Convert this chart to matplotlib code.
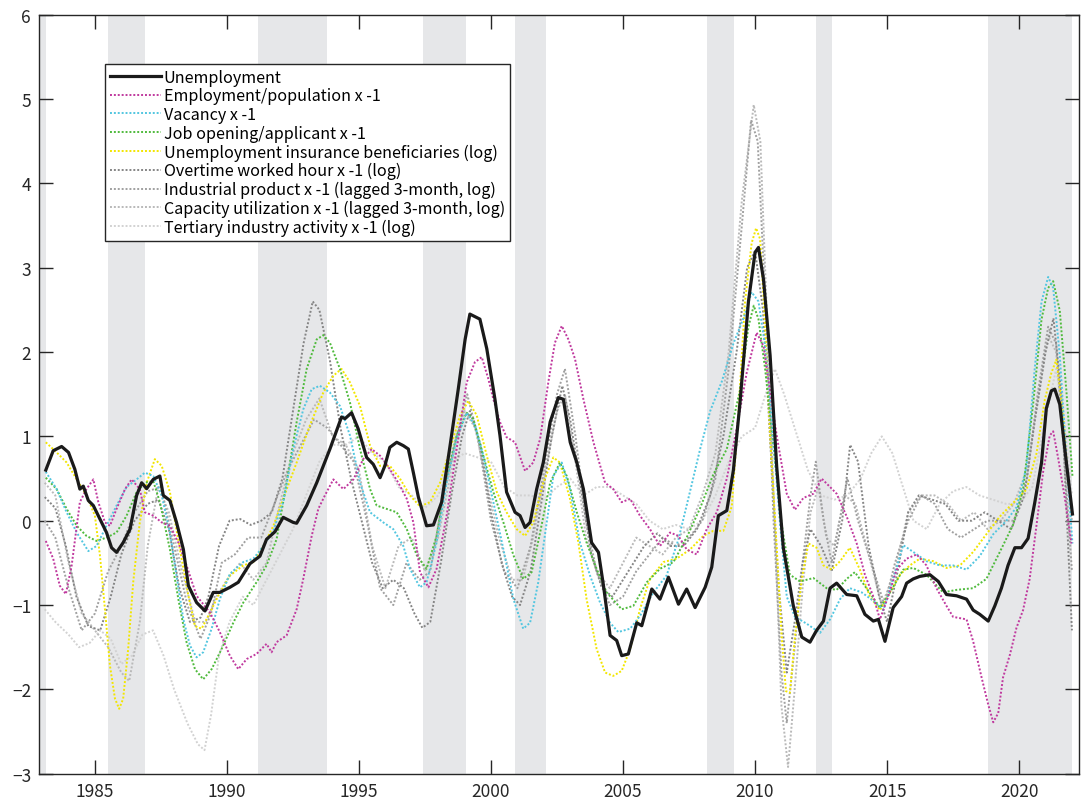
import matplotlib
matplotlib.use("Agg")
import matplotlib.pyplot as plt

plt.rcParams['font.family'] = ['Noto Sans CJK JP', 'DejaVu Sans']

# ---------------------------------------------------------------
# data (decimal year, standardized value)
# ---------------------------------------------------------------
unemployment = [
    (1983.14, 0.60), (1983.42, 0.83), (1983.74, 0.88), (1984.0, 0.81), (1984.24, 0.61), (1984.43, 0.375),
    (1984.56, 0.41), (1984.75, 0.24), (1984.94, 0.18), (1985.19, 0.02), (1985.44, -0.14), (1985.63, -0.32),
    (1985.82, -0.375), (1986.07, -0.26), (1986.33, -0.10), (1986.58, 0.30), (1986.77, 0.45), (1986.96, 0.38),
    (1987.21, 0.49), (1987.46, 0.53), (1987.59, 0.30), (1987.84, 0.24), (1988.09, -0.02), (1988.35, -0.34),
    (1988.54, -0.77), (1988.85, -0.97), (1989.17, -1.07), (1989.48, -0.85), (1989.73, -0.85), (1990.11, -0.79),
    (1990.43, -0.73), (1990.87, -0.51), (1991.25, -0.42), (1991.5, -0.22), (1991.82, -0.13), (1992.13, 0.04),
    (1992.51, -0.02), (1992.64, -0.03), (1993.02, 0.18), (1993.4, 0.45), (1993.9, 0.85), (1994.34, 1.23),
    (1994.47, 1.21), (1994.72, 1.28), (1994.97, 1.09), (1995.29, 0.75), (1995.54, 0.67), (1995.8, 0.51),
    (1995.98, 0.65), (1996.17, 0.87), (1996.43, 0.93), (1996.68, 0.89), (1996.87, 0.85), (1997.06, 0.57),
    (1997.25, 0.28), (1997.56, -0.06), (1997.82, -0.05), (1998.13, 0.22), (1998.45, 0.89), (1998.76, 1.56),
    (1999.02, 2.15), (1999.2, 2.45), (1999.58, 2.39), (1999.84, 2.04), (2000.15, 1.44), (2000.34, 1.01),
    (2000.59, 0.34), (2000.91, 0.10), (2001.1, 0.06), (2001.29, -0.08), (2001.48, -0.02), (2001.73, 0.375),
    (2001.98, 0.69), (2002.24, 1.17), (2002.55, 1.46), (2002.74, 1.44), (2003.0, 0.93), (2003.25, 0.69),
    (2003.5, 0.375), (2003.81, -0.26), (2004.07, -0.375), (2004.26, -0.77), (2004.51, -1.36), (2004.76, -1.42),
    (2004.95, -1.60), (2005.2, -1.58), (2005.52, -1.21), (2005.71, -1.245), (2006.09, -0.81), (2006.4, -0.93),
    (2006.72, -0.67), (2007.1, -0.99), (2007.41, -0.81), (2007.73, -1.03), (2008.11, -0.79), (2008.36, -0.55),
    (2008.61, 0.06), (2008.93, 0.12), (2009.18, 0.60), (2009.43, 1.4), (2009.75, 2.6), (2010.0, 3.18),
    (2010.13, 3.24), (2010.32, 2.86), (2010.57, 1.96), (2010.82, 0.64), (2011.07, -0.32), (2011.45, -1.01),
    (2011.77, -1.38), (2012.08, -1.44), (2012.33, -1.30), (2012.59, -1.19), (2012.84, -0.80), (2013.09, -0.74),
    (2013.47, -0.875), (2013.85, -0.89), (2014.16, -1.11), (2014.48, -1.19), (2014.67, -1.17), (2014.92, -1.43),
    (2015.23, -1.03), (2015.55, -0.90), (2015.74, -0.74), (2015.99, -0.69), (2016.24, -0.66), (2016.62, -0.64),
    (2016.94, -0.72), (2017.25, -0.875), (2017.63, -0.89), (2018.01, -0.93), (2018.26, -1.06), (2018.51, -1.11),
    (2018.83, -1.19), (2019.08, -1.01), (2019.33, -0.80), (2019.58, -0.53), (2019.84, -0.32), (2020.09, -0.32),
    (2020.34, -0.21), (2020.59, 0.21), (2020.85, 0.69), (2021.03, 1.33), (2021.22, 1.54), (2021.35, 1.56),
    (2021.54, 1.38), (2021.79, 0.69), (2022.02, 0.08),
]

employment_pop = [
    (1983.14, -0.24), (1983.42, -0.45), (1983.67, -0.77), (1983.90, -0.87), (1984.12, -0.53), (1984.43, 0.22),
    (1984.68, 0.375), (1984.94, 0.49), (1985.13, 0.22), (1985.38, -0.02), (1985.57, -0.06), (1985.82, 0.14),
    (1986.14, 0.375), (1986.39, 0.49), (1986.70, 0.375), (1986.89, 0.10), (1987.21, 0.06), (1987.53, -0.02),
    (1987.84, -0.06), (1988.16, -0.26), (1988.47, -0.53), (1988.85, -0.89), (1989.36, -1.09), (1989.73, -1.32),
    (1990.11, -1.60), (1990.43, -1.76), (1990.75, -1.64), (1991.12, -1.58), (1991.50, -1.46), (1991.69, -1.56),
    (1991.88, -1.44), (1992.26, -1.36), (1992.64, -1.05), (1992.89, -0.69), (1993.21, -0.18), (1993.46, 0.14),
    (1993.71, 0.30), (1994.03, 0.49), (1994.41, 0.375), (1994.79, 0.49), (1995.16, 0.73), (1995.48, 0.85),
    (1995.80, 0.77), (1996.17, 0.61), (1996.49, 0.45), (1996.81, 0.26), (1997.06, -0.02), (1997.31, -0.61),
    (1997.63, -0.79), (1997.94, -0.57), (1998.32, 0.06), (1998.70, 0.85), (1999.08, 1.64), (1999.39, 1.88),
    (1999.65, 1.94), (1999.90, 1.68), (2000.09, 1.44), (2000.34, 1.17), (2000.59, 0.99), (2000.91, 0.93),
    (2001.29, 0.59), (2001.60, 0.69), (2001.86, 0.97), (2002.17, 1.64), (2002.42, 2.11), (2002.68, 2.31),
    (2002.93, 2.15), (2003.18, 1.92), (2003.50, 1.44), (2003.88, 0.93), (2004.32, 0.45), (2004.63, 0.375),
    (2004.95, 0.22), (2005.27, 0.26), (2005.64, 0.06), (2006.02, -0.10), (2006.40, -0.30), (2006.78, -0.14),
    (2007.10, -0.18), (2007.41, -0.34), (2007.79, -0.40), (2008.17, -0.10), (2008.55, 0.10), (2008.93, 0.50),
    (2009.31, 1.10), (2009.68, 1.75), (2010.06, 2.23), (2010.32, 2.07), (2010.57, 1.54), (2010.82, 1.01),
    (2011.20, 0.32), (2011.51, 0.13), (2011.83, 0.27), (2012.21, 0.32), (2012.52, 0.50), (2012.84, 0.40),
    (2013.09, 0.32), (2013.47, 0.05), (2013.85, -0.27), (2014.16, -0.64), (2014.48, -0.90), (2014.73, -1.17),
    (2015.04, -0.90), (2015.36, -0.58), (2015.74, -0.45), (2016.12, -0.40), (2016.49, -0.53), (2016.87, -0.80),
    (2017.25, -1.01), (2017.50, -1.14), (2018.01, -1.17), (2018.26, -1.43), (2018.58, -1.86), (2018.83, -2.18),
    (2019.02, -2.39), (2019.21, -2.28), (2019.39, -1.86), (2019.65, -1.59), (2019.90, -1.27), (2020.15, -1.06),
    (2020.40, -0.69), (2020.66, -0.05), (2020.91, 0.58), (2021.16, 1.01), (2021.29, 1.06), (2021.48, 0.74),
    (2021.73, 0.27), (2021.98, -0.27),
]

vacancy = [
    (1983.14, 0.58), (1983.55, 0.375), (1983.93, 0.10), (1984.31, -0.14), (1984.75, -0.36), (1985.06, -0.30),
    (1985.44, -0.06), (1985.82, 0.18), (1986.20, 0.40), (1986.58, 0.49), (1986.89, 0.57), (1987.21, 0.53),
    (1987.53, 0.30), (1987.84, -0.14), (1988.09, -0.65), (1988.35, -1.17), (1988.60, -1.48), (1988.85, -1.62),
    (1989.10, -1.56), (1989.42, -1.28), (1989.73, -0.93), (1990.11, -0.63), (1990.62, -0.49), (1991.0, -0.45),
    (1991.38, -0.30), (1991.76, -0.12), (1992.13, 0.22), (1992.51, 0.85), (1992.89, 1.32), (1993.21, 1.56),
    (1993.52, 1.60), (1993.90, 1.52), (1994.28, 1.36), (1994.66, 1.01), (1995.04, 0.45), (1995.42, 0.10),
    (1995.92, -0.02), (1996.30, -0.10), (1996.68, -0.30), (1996.93, -0.57), (1997.31, -0.79), (1997.56, -0.73),
    (1997.94, -0.26), (1998.32, 0.45), (1998.70, 0.97), (1999.08, 1.28), (1999.39, 1.13), (1999.71, 0.77),
    (2000.09, 0.22), (2000.47, -0.34), (2000.85, -0.93), (2001.22, -1.28), (2001.48, -1.21), (2001.79, -0.73),
    (2002.11, -0.02), (2002.36, 0.53), (2002.68, 0.69), (2002.99, 0.375), (2003.37, -0.26), (2003.75, -0.65),
    (2004.13, -0.97), (2004.51, -1.21), (2004.82, -1.32), (2005.27, -1.28), (2005.64, -1.13), (2006.15, -0.85),
    (2006.65, -0.65), (2007.10, -0.22), (2007.54, 0.35), (2007.92, 0.85), (2008.30, 1.30), (2008.74, 1.65),
    (2009.18, 2.10), (2009.62, 2.45), (2009.87, 2.71), (2010.13, 2.60), (2010.38, 2.07), (2010.63, 1.22),
    (2010.95, -0.05), (2011.20, -0.90), (2011.51, -1.14), (2011.95, -1.22), (2012.46, -1.33), (2012.84, -1.17),
    (2013.22, -0.93), (2013.59, -0.80), (2014.04, -0.85), (2014.48, -0.95), (2014.86, -1.06), (2015.23, -0.69),
    (2015.61, -0.29), (2015.99, -0.37), (2016.49, -0.48), (2017.0, -0.53), (2017.50, -0.53), (2018.01, -0.58),
    (2018.51, -0.42), (2019.02, -0.16), (2019.52, 0.0), (2019.90, 0.16), (2020.28, 0.64), (2020.59, 1.80),
    (2020.85, 2.60), (2021.10, 2.89), (2021.29, 2.76), (2021.54, 1.96), (2021.79, 0.74), (2022.02, -0.27),
]

job_opening = [
    (1983.14, 0.51), (1983.55, 0.375), (1983.93, 0.14), (1984.31, -0.06), (1984.68, -0.18), (1985.06, -0.24),
    (1985.44, -0.20), (1985.82, -0.14), (1986.20, 0.06), (1986.58, 0.34), (1986.89, 0.45), (1987.21, 0.47),
    (1987.46, 0.22), (1987.84, -0.34), (1988.16, -0.93), (1988.47, -1.44), (1988.79, -1.76), (1989.10, -1.88),
    (1989.42, -1.76), (1989.80, -1.52), (1990.24, -1.21), (1990.62, -0.97), (1991.12, -0.73), (1991.50, -0.53),
    (1991.88, -0.22), (1992.26, 0.45), (1992.64, 1.17), (1993.02, 1.80), (1993.40, 2.15), (1993.65, 2.20),
    (1993.90, 2.11), (1994.28, 1.80), (1994.66, 1.40), (1995.04, 0.85), (1995.42, 0.375), (1995.67, 0.18),
    (1996.05, 0.14), (1996.43, 0.10), (1996.81, -0.10), (1997.19, -0.41), (1997.56, -0.57), (1997.94, -0.18),
    (1998.32, 0.53), (1998.70, 1.01), (1999.08, 1.28), (1999.33, 1.21), (1999.71, 0.77), (2000.09, 0.34),
    (2000.47, -0.02), (2000.85, -0.41), (2001.22, -0.69), (2001.54, -0.61), (2001.86, -0.14), (2002.24, 0.45),
    (2002.61, 0.69), (2002.87, 0.53), (2003.25, 0.10), (2003.62, -0.26), (2004.0, -0.57), (2004.38, -0.85),
    (2004.95, -1.05), (2005.39, -1.01), (2005.90, -0.73), (2006.40, -0.57), (2006.91, -0.49), (2007.41, -0.20),
    (2007.92, 0.15), (2008.42, 0.55), (2008.93, 0.85), (2009.43, 1.55), (2009.75, 2.30), (2009.95, 2.55),
    (2010.13, 2.39), (2010.38, 1.80), (2010.69, 0.90), (2011.01, -0.05), (2011.32, -0.64), (2011.70, -0.72),
    (2012.21, -0.68), (2012.71, -0.80), (2013.09, -0.82), (2013.47, -0.69), (2013.78, -0.61), (2014.22, -0.80),
    (2014.73, -1.03), (2015.11, -0.85), (2015.61, -0.58), (2015.99, -0.56), (2016.49, -0.64), (2017.12, -0.85),
    (2017.63, -0.82), (2018.26, -0.80), (2018.76, -0.69), (2019.27, -0.37), (2019.77, -0.05), (2020.15, 0.37),
    (2020.53, 1.38), (2020.85, 2.39), (2021.10, 2.76), (2021.29, 2.84), (2021.54, 2.49), (2021.79, 1.54),
    (2022.02, 0.53),
]

ui_beneficiaries = [
    (1983.14, 0.93), (1983.55, 0.81), (1983.93, 0.69), (1984.31, 0.49), (1984.68, 0.30), (1985.0, 0.06),
    (1985.19, -0.41), (1985.38, -1.05), (1985.57, -1.72), (1985.76, -2.11), (1985.92, -2.23), (1986.07, -2.11),
    (1986.26, -1.52), (1986.45, -0.73), (1986.70, -0.02), (1986.96, 0.45), (1987.27, 0.73), (1987.53, 0.65),
    (1987.84, 0.34), (1988.22, -0.34), (1988.54, -0.89), (1988.79, -1.25), (1989.04, -1.28), (1989.36, -1.09),
    (1989.67, -0.89), (1990.11, -0.65), (1990.62, -0.53), (1991.0, -0.49), (1991.38, -0.30), (1991.76, -0.06),
    (1992.13, 0.26), (1992.64, 0.69), (1993.14, 1.13), (1993.65, 1.52), (1994.03, 1.72), (1994.34, 1.80),
    (1994.66, 1.64), (1995.04, 1.36), (1995.42, 0.89), (1995.80, 0.65), (1996.17, 0.65), (1996.55, 0.50),
    (1996.93, 0.30), (1997.31, 0.17), (1997.69, 0.22), (1998.07, 0.45), (1998.45, 0.85), (1998.83, 1.25),
    (1999.14, 1.42), (1999.46, 1.25), (1999.84, 0.77), (2000.22, 0.34), (2000.59, 0.10), (2000.97, -0.10),
    (2001.29, -0.18), (2001.60, -0.02), (2001.98, 0.45), (2002.36, 0.75), (2002.61, 0.69), (2002.99, 0.26),
    (2003.31, -0.26), (2003.62, -0.93), (2004.0, -1.52), (2004.32, -1.80), (2004.63, -1.84), (2004.95, -1.78),
    (2005.27, -1.52), (2005.64, -1.05), (2006.02, -0.69), (2006.53, -0.49), (2007.03, -0.45), (2007.54, -0.34),
    (2008.04, -0.18), (2008.42, -0.12), (2008.80, -0.12), (2009.12, 0.17), (2009.37, 1.27), (2009.62, 2.60),
    (2009.87, 3.29), (2010.04, 3.47), (2010.19, 3.34), (2010.38, 2.33), (2010.57, 1.01), (2010.82, -0.32),
    (2011.01, -1.38), (2011.17, -2.02), (2011.32, -2.04), (2011.51, -1.38), (2011.77, -0.69), (2012.02, -0.27),
    (2012.33, -0.32), (2012.59, -0.53), (2012.90, -0.58), (2013.22, -0.48), (2013.59, -0.32), (2013.97, -0.58),
    (2014.35, -0.90), (2014.73, -1.06), (2015.11, -0.85), (2015.49, -0.64), (2015.86, -0.53), (2016.24, -0.45),
    (2016.75, -0.48), (2017.25, -0.56), (2017.76, -0.53), (2018.26, -0.37), (2018.76, -0.16), (2019.27, 0.05),
    (2019.77, 0.21), (2020.28, 0.37), (2020.66, 0.80), (2020.97, 1.43), (2021.22, 1.75), (2021.41, 1.91),
    (2021.67, 1.27), (2021.85, 0.48), (2022.02, 0.08),
]

overtime = [
    (1983.1, 0.28), (1983.5, 0.15), (1983.9, -0.3), (1984.3, -0.9), (1984.75, -1.25), (1985.2, -1.3),
    (1985.6, -0.9), (1986.0, -0.4), (1986.5, 0.0), (1987.0, 0.2), (1987.4, 0.25), (1987.8, -0.1),
    (1988.2, -0.8), (1988.6, -1.2), (1989.0, -1.15), (1989.3, -0.9), (1989.7, -0.3), (1990.1, 0.0),
    (1990.5, 0.02), (1990.9, -0.05), (1991.3, 0.0), (1991.7, 0.1), (1992.1, 0.5), (1992.5, 1.3),
    (1992.9, 2.1), (1993.25, 2.6), (1993.5, 2.5), (1993.9, 1.9), (1994.3, 1.1), (1994.7, 0.5),
    (1995.1, 0.0), (1995.5, -0.5), (1995.9, -0.8), (1996.3, -0.7), (1996.7, -0.8), (1997.1, -1.1),
    (1997.4, -1.27), (1997.7, -1.2), (1998.1, -0.5), (1998.5, 0.3), (1998.9, 1.0), (1999.2, 1.3),
    (1999.6, 0.9), (2000.0, 0.1), (2000.4, -0.5), (2000.8, -0.9), (2001.1, -1.0), (2001.5, -0.6),
    (2001.9, 0.2), (2002.3, 1.0), (2002.7, 1.6), (2003.0, 1.2), (2003.4, 0.4), (2003.8, -0.4),
    (2004.2, -0.8), (2004.6, -0.9), (2005.0, -0.7), (2005.4, -0.5), (2005.8, -0.3), (2006.3, -0.15),
    (2006.8, -0.3), (2007.3, -0.3), (2007.8, -0.1), (2008.3, 0.3), (2008.8, 1.0), (2009.3, 2.0),
    (2009.7, 3.0), (2010.0, 3.2), (2010.3, 2.5), (2010.6, 0.8), (2010.9, -0.8), (2011.2, -1.8),
    (2011.5, -1.2), (2011.8, -0.5), (2012.1, -0.1), (2012.5, -0.3), (2012.9, -0.6), (2013.3, 0.0),
    (2013.6, 0.9), (2013.9, 0.7), (2014.3, -0.3), (2014.7, -0.9), (2015.0, -1.2), (2015.4, -0.6),
    (2015.8, 0.1), (2016.2, 0.3), (2016.7, 0.25), (2017.2, 0.2), (2017.7, 0.0), (2018.2, 0.0),
    (2018.7, 0.1), (2019.2, 0.0), (2019.7, -0.1), (2020.2, 0.3), (2020.6, 1.2), (2021.0, 2.0),
    (2021.3, 2.4), (2021.6, 1.5), (2022.0, -1.3),
]

industrial = [
    (1983.1, 0.0), (1983.5, -0.2), (1984.0, -0.8), (1984.5, -1.3), (1985.0, -1.1), (1985.5, -0.6),
    (1986.0, -0.3), (1986.5, 0.1), (1987.0, 0.35), (1987.5, 0.4), (1988.0, -0.3), (1988.5, -1.0),
    (1989.0, -1.4), (1989.4, -1.1), (1989.8, -0.5), (1990.3, -0.4), (1990.8, -0.2), (1991.3, -0.2),
    (1991.8, 0.2), (1992.3, 0.6), (1992.8, 0.9), (1993.3, 1.2), (1993.8, 1.1), (1994.3, 0.9),
    (1994.8, 0.7), (1995.3, 0.0), (1995.8, -0.8), (1996.3, -1.0), (1996.8, -0.5), (1997.3, -0.7),
    (1997.7, -0.6), (1998.2, 0.3), (1998.7, 1.0), (1999.1, 1.5), (1999.5, 1.0), (2000.0, 0.0),
    (2000.5, -0.6), (2001.0, -0.8), (2001.5, -0.3), (2002.0, 0.6), (2002.5, 1.5), (2002.8, 1.8),
    (2003.2, 1.0), (2003.6, 0.0), (2004.0, -0.6), (2004.5, -1.0), (2005.0, -0.9), (2005.5, -0.6),
    (2006.0, -0.4), (2006.5, -0.2), (2007.0, -0.3), (2007.5, -0.2), (2008.0, 0.0), (2008.5, 0.5),
    (2009.0, 1.8), (2009.5, 3.5), (2009.85, 4.75), (2010.1, 4.5), (2010.4, 2.5), (2010.7, 0.0),
    (2011.0, -1.8), (2011.2, -2.4), (2011.5, -1.5), (2011.8, -0.5), (2012.1, 0.3), (2012.3, 0.7),
    (2012.6, 0.0), (2012.9, -0.5), (2013.2, 0.0), (2013.5, 0.5), (2013.9, 0.0), (2014.4, -0.5),
    (2014.9, -1.0), (2015.3, -0.5), (2015.8, 0.0), (2016.3, 0.3), (2016.8, 0.2), (2017.3, -0.1),
    (2017.8, -0.2), (2018.3, -0.1), (2018.8, 0.0), (2019.3, 0.0), (2019.8, 0.0), (2020.3, 0.5),
    (2020.7, 1.5), (2021.1, 2.3), (2021.4, 2.1), (2021.7, 0.8), (2022.0, -0.6),
]

capacity = [
    (1983.1, 0.45), (1983.5, 0.3), (1984.0, -0.5), (1984.5, -1.1), (1985.0, -1.3), (1985.5, -1.5),
    (1986.0, -1.8), (1986.3, -1.9), (1986.7, -1.2), (1987.0, -0.3), (1987.4, 0.4), (1987.8, 0.1),
    (1988.3, -0.6), (1988.8, -1.2), (1989.2, -1.2), (1989.6, -0.9), (1990.0, -0.7), (1990.5, -0.5),
    (1991.0, -0.7), (1991.5, -0.5), (1992.0, 0.2), (1992.5, 0.8), (1993.0, 1.2), (1993.5, 1.45),
    (1994.0, 1.0), (1994.5, 0.9), (1995.0, 0.6), (1995.5, -0.3), (1996.0, -0.8), (1996.5, -0.3),
    (1997.0, -0.2), (1997.5, -0.6), (1998.0, -0.2), (1998.5, 0.6), (1999.0, 1.3), (1999.4, 1.1),
    (1999.8, 0.5), (2000.3, -0.2), (2000.8, -0.7), (2001.2, -0.7), (2001.6, -0.2), (2002.0, 0.5),
    (2002.5, 1.3), (2002.8, 1.5), (2003.2, 0.7), (2003.6, -0.2), (2004.0, -0.6), (2004.5, -0.8),
    (2005.0, -0.5), (2005.5, -0.2), (2006.0, -0.3), (2006.5, -0.4), (2007.0, -0.2), (2007.5, -0.1),
    (2008.0, 0.3), (2008.5, 0.8), (2009.0, 2.0), (2009.5, 3.8), (2009.95, 4.93), (2010.2, 4.5),
    (2010.5, 2.0), (2010.8, -0.5), (2011.0, -2.2), (2011.25, -2.92), (2011.5, -2.0), (2011.8, -0.8),
    (2012.1, 0.1), (2012.4, 0.4), (2012.7, -0.2), (2013.0, -0.3), (2013.4, 0.3), (2013.8, 0.2),
    (2014.3, -0.4), (2014.8, -1.0), (2015.3, -0.6), (2015.8, 0.1), (2016.3, 0.3), (2016.8, 0.3),
    (2017.3, 0.2), (2017.8, 0.0), (2018.3, 0.1), (2018.8, -0.1), (2019.3, 0.0), (2019.8, 0.2),
    (2020.3, 0.6), (2020.7, 1.4), (2021.1, 2.2), (2021.4, 2.0), (2021.7, 1.0), (2022.0, 0.0),
]

tertiary = [
    (1983.1, -1.05), (1983.5, -1.2), (1984.0, -1.35), (1984.4, -1.5), (1984.8, -1.45), (1985.2, -1.3),
    (1985.6, -1.4), (1986.0, -1.7), (1986.4, -1.6), (1986.8, -1.35), (1987.2, -1.3), (1987.6, -1.6),
    (1988.0, -2.0), (1988.5, -2.4), (1988.9, -2.65), (1989.15, -2.72), (1989.4, -2.3), (1989.7, -1.6),
    (1990.1, -1.2), (1990.6, -0.9), (1991.0, -1.0), (1991.5, -0.7), (1992.0, -0.4), (1992.5, -0.1),
    (1993.0, 0.3), (1993.5, 0.7), (1994.0, 0.9), (1994.5, 0.9), (1995.0, 1.0), (1995.5, 0.8),
    (1996.0, 0.7), (1996.5, 0.4), (1997.0, 0.3), (1997.5, 0.15), (1998.0, 0.3), (1998.5, 0.7),
    (1999.0, 0.8), (1999.5, 0.75), (2000.0, 0.7), (2000.5, 0.4), (2001.0, 0.3), (2001.5, 0.3),
    (2002.0, 0.25), (2002.5, 0.4), (2003.0, 0.5), (2003.5, 0.3), (2004.0, 0.4), (2004.5, 0.4),
    (2005.0, 0.3), (2005.5, 0.2), (2006.0, 0.0), (2006.5, -0.1), (2007.0, -0.05), (2007.5, -0.1),
    (2008.0, 0.0), (2008.5, 0.3), (2009.0, 0.7), (2009.5, 1.0), (2010.0, 1.1), (2010.4, 1.5),
    (2010.75, 1.8), (2011.1, 1.5), (2011.5, 1.1), (2012.0, 0.6), (2012.5, 0.3), (2013.0, 0.25),
    (2013.5, 0.3), (2014.0, 0.5), (2014.4, 0.8), (2014.8, 1.0), (2015.2, 0.8), (2015.6, 0.4),
    (2016.0, 0.0), (2016.5, -0.1), (2017.0, 0.2), (2017.5, 0.35), (2018.0, 0.4), (2018.5, 0.3),
    (2019.0, 0.25), (2019.5, 0.2), (2020.0, 0.2), (2020.5, 0.4), (2021.0, 1.2), (2021.4, 1.8),
    (2021.7, 1.2), (2022.0, 0.3),
]

# recession periods (start, end) in decimal years
recessions = [(1980.17, 1983.15), (1985.5, 1986.9), (1991.17, 1993.8), (1997.42, 1999.07),
              (2000.92, 2002.08), (2008.17, 2009.22), (2012.29, 2012.93), (2018.82, 2022.0)]

labels = [
    "Unemployment",
    "Employment/population x -1",
    "Vacancy x -1",
    "Job opening/applicant x -1",
    "Unemployment insurance beneficiaries (log)",
    "Overtime worked hour x -1 (log)",
    "Industrial product x -1 (lagged 3-month, log)",
    "Capacity utilization x -1 (lagged 3-month, log)",
    "Tertiary industry activity x -1 (log)",
]

# ---------------------------------------------------------------
fig = plt.figure(figsize=(10.81, 8.04), dpi=100)
ax = fig.add_axes([0.0365, 0.0364, 0.9617, 0.9441])

for s, e in recessions:
    ax.axvspan(s, e, color="#e6e7e9", lw=0, zorder=0)

dot = (0, (1, 1))
series = [
    (tertiary, "#d2d2d2", 1.4, dot, 1),
    (capacity, "#b9b9b9", 1.4, dot, 2),
    (industrial, "#a0a0a0", 1.4, dot, 3),
    (overtime, "#858585", 1.4, dot, 4),
    (ui_beneficiaries, "#f2e600", 1.4, dot, 5),
    (job_opening, "#4fba3c", 1.4, dot, 6),
    (vacancy, "#52c6e0", 1.4, dot, 7),
    (employment_pop, "#c0399e", 1.4, dot, 8),
    (unemployment, "#1a1a1a", 2.3, "-", 10),
]
handles = {}
for data, col, lw, ls, z in series:
    t = [p[0] for p in data]
    v = [p[1] for p in data]
    ln, = ax.plot(t, v, color=col, lw=lw, linestyle=ls, zorder=z)
    handles[id(data)] = ln

order = [unemployment, employment_pop, vacancy, job_opening, ui_beneficiaries,
         overtime, industrial, capacity, tertiary]
leg = ax.legend([handles[id(d)] for d in order], labels, loc="upper left",
                bbox_to_anchor=(0.063, 0.935), borderaxespad=0, fontsize=11.6,
                handlelength=3.2, handletextpad=0.15, labelspacing=0.1, borderpad=0.3,
                fancybox=False, framealpha=1, edgecolor="#262626")
leg.get_frame().set_linewidth(1.0)

ax.set_xlim(1982.9, 2022.27)
ax.set_ylim(-3, 6)
ax.set_xticks(range(1985, 2021, 5))
ax.set_yticks(range(-3, 7))
ax.tick_params(direction="in", length=10, width=1, colors="#262626", labelsize=12.5,
               top=True, right=True, pad=6)
ax.set_yticklabels([str(i).replace("-", "\u2212") for i in range(-3, 7)])
for sp in ax.spines.values():
    sp.set_color("#262626")
    sp.set_linewidth(1.0)

fig.savefig("out.png", dpi=100)
